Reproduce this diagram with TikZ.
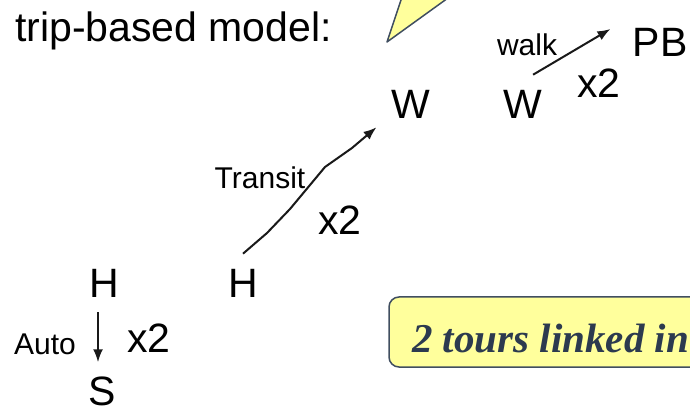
\documentclass[tikz,border=0pt]{standalone}
\usepackage{fontspec}
\setsansfont{Liberation Sans}
\setmainfont{Liberation Serif}
\usetikzlibrary{arrows.meta}

\definecolor{noteyellow}{HTML}{FFFF9C}
\definecolor{noteline}{HTML}{404E60}
\definecolor{notetext}{HTML}{2C3A4F}

\newcommand{\placefont}{\sffamily\fontsize{41}{49}\selectfont}
\newcommand{\modefont}{\sffamily\fontsize{30}{36}\selectfont}

\begin{document}
\begin{tikzpicture}
[x=1pt,y=1pt,every node/.style={inner sep=15pt,font=\placefont},
 mode/.style={inner sep=0pt,font=\modefont},
 trip/.style={line width=2pt,black!90,-{Latex[length=13pt,width=10pt]}}]
  \useasboundingbox (0,0) rectangle (690,415);

  % callout pointer and note box, both run off the page
  \filldraw[fill=noteyellow,draw=noteline,line width=1.5pt,line join=round]
    (387,373) -- (406,430) -- (466,430) -- cycle;
  \filldraw[fill=noteyellow,draw=noteline,line width=1.5pt,rounded corners=10pt]
    (389,48) rectangle (730,118);
  \node (note) at (412,63) [anchor=base west,inner sep=0pt,text=notetext,
    font=\rmfamily\bfseries\itshape\fontsize{41}{49}\selectfont] {2 tours linked in};

  \node (title) at (15,373) [anchor=base west,inner sep=0pt] {trip-based model:};

  \node (h1) at (104,132) {H};
  \node (s) at (102,24) [inner sep=0pt] {S};
  \node (h2) at (243,132) {H};
  \node (w1) at (411,311) {W};
  \node (w2) at (523,311) {W};
  \node (pb) at (660,373) {PB};

  \node (auto) at (45,71) [mode] {Auto};
  \node (autox) at (149,77) [inner sep=0pt] {x2};
  \node (transit) at (260,237) [mode] {Transit};
  \node (transitx) at (340,195) [inner sep=0pt] {x2};
  \node (walk) at (527,370) [mode] {walk};
  \node (walkx) at (599,332) [inner sep=0pt] {x2};

  \draw[trip] ([xshift=-6pt]h1.south) -- ([shift={(-4pt,14pt)}]s.north);
  \draw[trip] (h2.north) -- (267,182) -- (290,206) -- (325,248) -- (352,267) -- (w1.214);
  \draw[trip] (w2.71) -- ([xshift=-7pt]pb.163);
\end{tikzpicture}
\end{document}
